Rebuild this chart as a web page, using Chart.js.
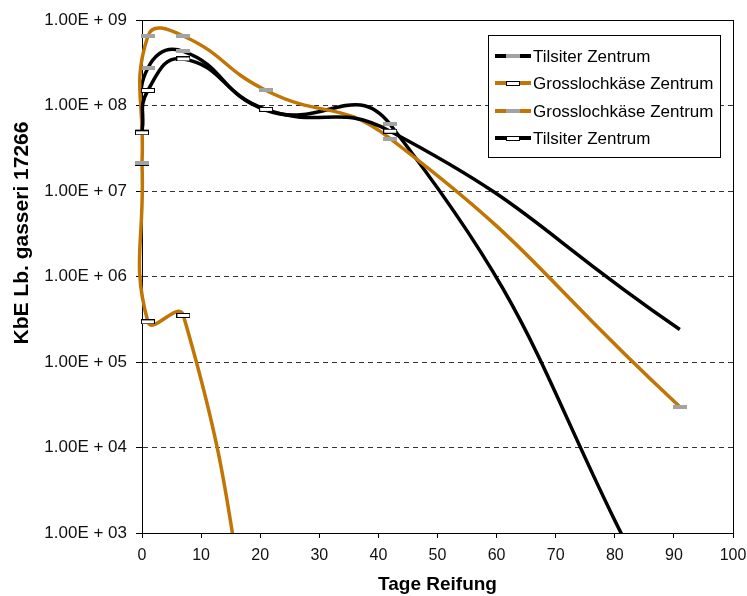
<!DOCTYPE html>
<html>
<head>
<meta charset="utf-8">
<script src="https://cdn.jsdelivr.net/npm/chart.js@4/dist/chart.umd.min.js"></script>
<style>
  html, body { margin: 0; padding: 0; background: #fff; }
  #wrap { width: 747px; height: 596px; }
</style>
</head>
<body>
<div id="wrap"><canvas id="chart-reifung"></canvas></div>
<script>
// Messtage und Keimzahlen (KbE)
const days = [0, 1, 7, 21, 42, 91];
const tilsiter1 = [5.0e7, 2.75e8, 4.3e8, 8.8e7, 6.0e7, 50];
const grossloch1 = [2.1e7, 2.95e5, 3.5e5, 5, null, null];
const grossloch2 = [2.1e7, 6.5e8, 6.5e8, 1.5e8, 4.1e7, 3.0e4];
const tilsiter2 = [4.8e7, 1.5e8, 3.5e8, 9.0e7, 5.0e7, 2.4e5];

const seriesLabels = ["Tilsiter Zentrum", "Grosslochkäse Zentrum", "Grosslochkäse Zentrum", "Tilsiter Zentrum"];
const xTicks = [0, 10, 20, 30, 40, 50, 60, 70, 80, 90, 100];
const yTicks = [1e3, 1e4, 1e5, 1e6, 1e7, 1e8, 1e9];
const yTickLabels = ["1.00E + 03", "1.00E + 04", "1.00E + 05", "1.00E + 06", "1.00E + 07", "1.00E + 08", "1.00E + 09"];

const FONT = "'Liberation Sans', Arial, Helvetica, sans-serif";
const ORANGE = "#c07504";

function marker(w, h, fill, edge) {
    const c = document.createElement("canvas");
    c.width = w;
    c.height = h;
    const g = c.getContext("2d");
    g.fillStyle = fill;
    g.fillRect(0, 0, w, h);
    if (edge) {
        g.strokeStyle = edge;
        g.lineWidth = 1;
        g.strokeRect(0.5, 0.5, w - 1, h - 1);
    }
    return c;
}
const grey = marker(14, 4, "#a3a3a3");
const white = marker(14, 5, "#ffffff", "#000000");

function series(label, values, color, pt, order, radius) {
    return {
        label: label,
        data: days.map((d, i) => ({ x: d, y: values[i] })),
        borderColor: color,
        backgroundColor: color,
        borderWidth: 3.5,
        tension: 0.5,
        pointStyle: pt,
        pointRadius: radius || 5,
        order: order,
        clip: { left: 10, top: 5, right: 5, bottom: 0 },
    };
}

const datasets = [
    series(seriesLabels[0], tilsiter1, "#000000", grey, 3),
    series(seriesLabels[1], grossloch1, ORANGE, white, 2),
    series(seriesLabels[2], grossloch2, ORANGE, grey, 1),
    series(seriesLabels[3], tilsiter2, "#000000", white, 0, [5, 5, 5, 5, 5, 0]),
];

// Rahmen um die Zeichenfläche
const frame = {
    id: "frame",
    beforeDatasetsDraw(chart) {
        const { ctx, chartArea: a } = chart;
        ctx.save();
        ctx.strokeStyle = "#000";
        ctx.lineWidth = 1;
        ctx.strokeRect(Math.round(a.left) + 0.5, Math.round(a.top) + 0.5, Math.round(a.right - a.left), Math.round(a.bottom - a.top));
        ctx.restore();
    },
};

// Legende im Diagramm, oben rechts
const innerLegend = {
    id: "innerLegend",
    afterDraw(chart) {
        const { ctx, chartArea } = chart;
        const w = 232, h = 122;
        const x0 = Math.round(chartArea.right) - 13 - w;
        const y0 = Math.round(chartArea.top) + 15;
        ctx.save();
        ctx.fillStyle = "#fff";
        ctx.fillRect(x0, y0, w, h);
        ctx.strokeStyle = "#000";
        ctx.lineWidth = 1;
        ctx.strokeRect(x0 + 0.5, y0 + 0.5, w, h);
        ctx.font = "17px " + FONT;
        ctx.textBaseline = "middle";
        chart.data.datasets.forEach((ds, i) => {
            const y = Math.round(y0 + 21 + i * 27.3);
            ctx.strokeStyle = ds.borderColor;
            ctx.lineWidth = 4;
            ctx.beginPath();
            ctx.moveTo(x0 + 7, y);
            ctx.lineTo(x0 + 43, y);
            ctx.stroke();
            const m = ds.pointStyle;
            ctx.drawImage(m, x0 + 25 - m.width / 2, Math.round(y - m.height / 2));
            ctx.fillStyle = "#000";
            ctx.fillText(ds.label, x0 + 45, y + 1);
        });
        ctx.restore();
    },
};

// y-Achsentitel, etwas oberhalb der Mitte wie im Original
const yTitle = {
    id: "yTitle",
    afterDraw(chart) {
        const { ctx, chartArea } = chart;
        ctx.save();
        ctx.translate(22, chartArea.top + 213);
        ctx.rotate(-Math.PI / 2);
        ctx.font = "bold 21px " + FONT;
        ctx.fillStyle = "#000";
        ctx.textAlign = "center";
        ctx.textBaseline = "middle";
        ctx.fillText("KbE Lb. gasseri 17266", 0, 0);
        ctx.restore();
    },
};

Chart.defaults.font.family = FONT;
Chart.defaults.color = "#111";

const config = {
    type: "line",
    data: { datasets: datasets },
    options: {
        responsive: true,
        maintainAspectRatio: false,
        animation: false,
        layout: { padding: { left: 0, right: 14, top: 20, bottom: 0 } },
        elements: { line: { capBezierPoints: false } },
        plugins: {
            legend: { display: false },
            tooltip: { enabled: false },
        },
        scales: {
            x: {
                type: "linear",
                min: 0,
                max: 100,
                afterBuildTicks: (scale) => { scale.ticks = xTicks.map((v) => ({ value: v })); },
                afterFit: (scale) => {
                    scale.height = 63;
                    scale.paddingLeft = 0;
                    scale.paddingRight = 0;
                },
                ticks: { font: { size: 16 }, padding: 8, maxRotation: 0 },
                grid: { drawOnChartArea: false, drawTicks: true, tickLength: 5, color: "#000" },
                border: { color: "#000", width: 1 },
                title: {
                    display: true,
                    text: "Tage Reifung",
                    color: "#000",
                    font: { size: 19, weight: "bold", lineHeight: 1.2 },
                    padding: { top: 0, bottom: 0 },
                },
            },
            y: {
                type: "logarithmic",
                min: 1e3,
                max: 1e9,
                afterBuildTicks: (scale) => { scale.ticks = yTicks.map((v) => ({ value: v })); },
                afterFit: (scale) => { scale.width = 142; },
                ticks: {
                    font: { size: 17 },
                    padding: 9,
                    callback: (value, index) => yTickLabels[index],
                },
                grid: { color: "#333", tickLength: 6, tickColor: "#000", tickBorderDash: [] },
                border: { color: "#000", width: 1, dash: [5, 4] },
            },
        },
    },
    plugins: [frame, innerLegend, yTitle],
};

const canvas = document.getElementById("chart-reifung");
const chart = new Chart(canvas, config);
</script>
</body>
</html>
